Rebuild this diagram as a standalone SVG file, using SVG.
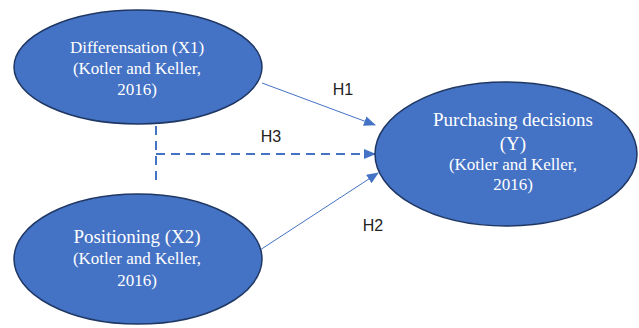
<svg xmlns="http://www.w3.org/2000/svg" width="639" height="328" viewBox="0 0 639 328">
<style>
.node{fill:#4472C4;stroke:#1F3763;stroke-width:1.5}
.t{font-family:"Liberation Serif",serif;fill:#fff;text-anchor:middle}
.lbl{font-family:"Liberation Sans",sans-serif;font-size:16px;fill:#222;text-anchor:middle}
.ln{stroke:#4472C4;stroke-width:1;fill:none}
.dl{stroke:#4472C4;stroke-width:2;fill:none;stroke-dasharray:9 6}
</style>
<defs>
<marker id="ah" markerWidth="12" markerHeight="10" refX="11" refY="5" orient="auto" markerUnits="userSpaceOnUse">
<path d="M0,0 L12,5 L0,10 Z" fill="#4472C4"/>
</marker>
</defs>
<rect width="639" height="328" fill="#fff"/>
<g id="connectors">
<line class="ln" x1="262" y1="83" x2="375" y2="125" marker-end="url(#ah)"/>
<line class="ln" x1="260" y1="250" x2="378" y2="173" marker-end="url(#ah)"/>
<line class="dl" x1="156" y1="126" x2="156" y2="183"/>
<line class="dl" x1="156" y1="154" x2="375" y2="154" marker-end="url(#ah)"/>
<text class="lbl" x="343" y="95">H1</text>
<text class="lbl" x="271" y="142">H3</text>
<text class="lbl" x="373" y="231">H2</text>
</g>
<g id="x1">
<ellipse class="node" cx="138" cy="67" rx="124" ry="57"/>
<text class="t" font-size="17" x="137" y="53">Differensation (X1)</text>
<text class="t" font-size="17" x="137" y="74">(Kotler and Keller,</text>
<text class="t" font-size="17" x="137" y="95">2016)</text>
</g>
<g id="x2">
<ellipse class="node" cx="138" cy="259" rx="124" ry="65"/>
<text class="t" font-size="19" x="137" y="243">Positioning (X2)</text>
<text class="t" font-size="17" x="137" y="264">(Kotler and Keller,</text>
<text class="t" font-size="17" x="137" y="286">2016)</text>
</g>
<g id="y">
<ellipse class="node" cx="506" cy="154" rx="131" ry="72"/>
<text class="t" font-size="19" x="513" y="126">Purchasing decisions</text>
<text class="t" font-size="19" x="513" y="150">(Y)</text>
<text class="t" font-size="17" x="513" y="170">(Kotler and Keller,</text>
<text class="t" font-size="17" x="513" y="190">2016)</text>
</g>
</svg>
